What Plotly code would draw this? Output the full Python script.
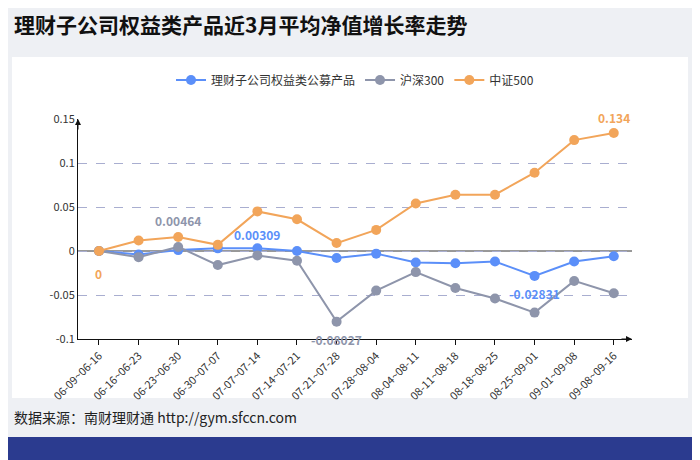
import plotly.graph_objects as go

# Data
periods = ['06-09~06-16', '06-16~06-23', '06-23~06-30', '06-30~07-07', '07-07~07-14',
           '07-14~07-21', '07-21~07-28', '07-28~08-04', '08-04~08-11', '08-11~08-18',
           '08-18~08-25', '08-25~09-01', '09-01~09-08', '09-08~09-16']
wealth = [0, -0.004, 0.001, 0.003, 0.00309, 0, -0.008, -0.003, -0.013, -0.014,
          -0.012, -0.02831, -0.012, -0.006]
hs300 = [0, -0.007, 0.00464, -0.016, -0.005, -0.011, -0.08027, -0.045, -0.024, -0.042,
         -0.054, -0.07, -0.034, -0.048]
zz500 = [0, 0.012, 0.016, 0.007, 0.045, 0.036, 0.009, 0.024, 0.054, 0.064,
         0.064, 0.089, 0.126, 0.134]

W, H = 700, 460
OFF = 8  # page body margin
L, R, T, B = 78, 632, 119, 339


def px_x(x):
    return (x - L) / (R - L)


def px_y(y):
    return (B - y) / (B - T)


BLUE, GRAY, ORANGE = '#5b8ff9', '#8e95ab', '#f2a55a'

fig = go.Figure()
for name, vals, col in [('理财子公司权益类公募产品', wealth, BLUE),
                        ('沪深300', hs300, GRAY),
                        ('中证500', zz500, ORANGE)]:
    fig.add_trace(go.Scatter(x=periods, y=vals, name=name, mode='lines+markers',
                             line=dict(color=col, width=2),
                             marker=dict(size=10, color=col)))

# value labels
labels = [(periods[0], zz500[0], '0', ORANGE, 22),
          (periods[2], hs300[2], '0.00464', GRAY, -26),
          (periods[4], wealth[4], '0.00309', BLUE, -14),
          (periods[6], hs300[6], '-0.08027', GRAY, 18),
          (periods[11], wealth[11], '-0.02831', BLUE, 18),
          (periods[13], zz500[13], '0.134', ORANGE, -16)]
for x, y, t, c, dy in labels:
    fig.add_annotation(x=x, y=y, text='<b>%s</b>' % t, showarrow=False, yshift=-dy,
                       font=dict(color=c, size=12))

shapes = [
    dict(type='rect', xref='paper', yref='paper', x0=px_x(12), x1=px_x(688),
         y0=px_y(398), y1=px_y(57), fillcolor='white', line_width=0, layer='below'),
    dict(type='rect', xref='paper', yref='paper', x0=px_x(-10), x1=px_x(720),
         y0=px_y(480), y1=px_y(437), fillcolor='#2b3b8f', line_width=0, layer='below'),
    dict(type='line', xref='paper', yref='y', x0=0, x1=1, y0=0, y1=0,
         line=dict(color='#333', width=1), layer='below'),
]
fig.add_annotation(xref='paper', yref='paper', x=1, y=0, ax=-12, ay=0,
                   showarrow=True, arrowhead=2, arrowsize=1.2, arrowcolor='#111', text='')
fig.add_annotation(xref='paper', yref='paper', x=0, y=1, ax=0, ay=12,
                   showarrow=True, arrowhead=2, arrowsize=1.2, arrowcolor='#111', text='')

fig.add_annotation(xref='paper', yref='paper', x=px_x(12), y=px_y(24), xanchor='left',
                   yanchor='middle', showarrow=False,
                   text='<b>理财子公司权益类产品近3月平均净值增长率走势</b>',
                   font=dict(size=21, color='#111'))
fig.add_annotation(xref='paper', yref='paper', x=px_x(12), y=px_y(417), xanchor='left',
                   yanchor='middle', showarrow=False,
                   text='数据来源：南财理财通 http://gym.sfccn.com',
                   font=dict(size=14, color='#222'))

fig.update_layout(
    width=W, height=H, paper_bgcolor='#eef0f4', plot_bgcolor='white',
    margin=dict(l=L - OFF, r=W - R + OFF, t=T - OFF, b=H - B + OFF),
    font=dict(family='Noto Sans CJK SC', size=11, color='#333'),
    shapes=shapes,
    legend=dict(orientation='h', x=0.5, xanchor='center', y=px_y(80), yanchor='middle',
                font=dict(size=12, color='#333'), bgcolor='rgba(0,0,0,0)'),
    xaxis=dict(range=[-0.53, 13.46], showgrid=False, showline=True, linecolor='#111',
               ticks='outside', ticklen=5, tickcolor='#111', tickangle=-45,
               tickfont=dict(size=11, color='#333')),
    yaxis=dict(range=[-0.1, 0.15], tickvals=[-0.1, -0.05, 0, 0.05, 0.1, 0.15],
               ticktext=['-0.1', '-0.05', '0', '0.05', '0.1', '0.15'],
               showline=True, linecolor='#111', zeroline=False,
               gridcolor='#a9aed0', griddash='dash', gridwidth=1,
               tickfont=dict(size=11, color='#333')),
)
fig.write_html('out.html')
